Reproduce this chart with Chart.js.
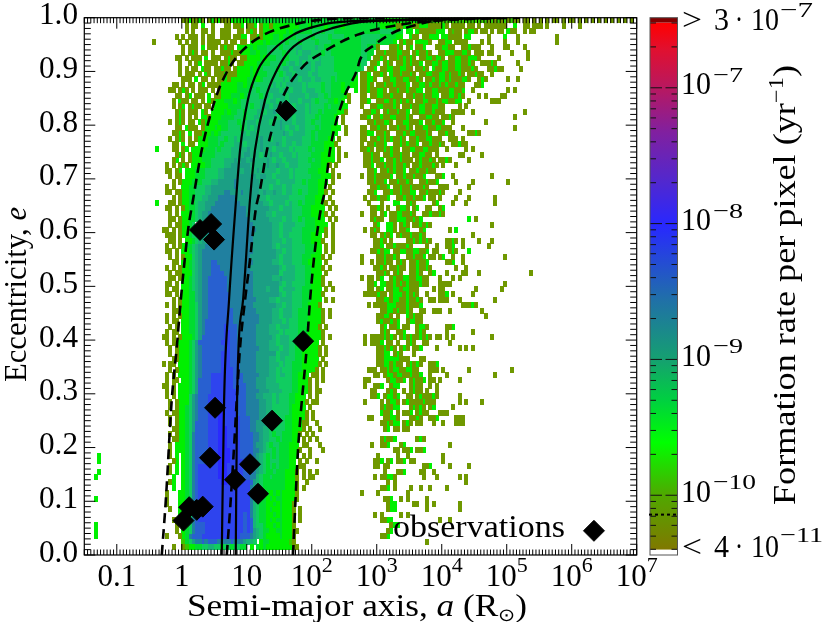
<!DOCTYPE html>
<html>
<head>
<meta charset="utf-8">
<style>
  html, body { margin: 0; padding: 0; background: #fff; }
  canvas { display: block; }
</style>
<script src="https://cdn.jsdelivr.net/npm/chart.js@4/dist/chart.umd.min.js"></script>
</head>
<body>
<canvas id="chart" width="830" height="622"></canvas>
<script>
// one string per eccentricity row, top (e=0.99-1.0) to bottom, "column:levels", '.' = empty pixel
const cellRows = [
  "30:1131131.13 40:1311133333 50:3444444444 60:4444444444 70:4444444444 80:4444444444 90:3333333333 100:3333322222 110:2222222222 120:2222121212 130:1211.11.1. 140:1.1.11.1.1 150:1.1.1.1.1. 160:1.1.1.1.1.",
  "31:1.11.3..1 42:.11.113.11 52:3.13313333 62:3333444344 72:4434444344 82:444 85:4444443333 95:3113331133 105:3111131.1 114:111.11.1.1 124:111111..3. 134:.11.111.1. 147:1 152:1",
  "31:1.1..11.1. 42:111..11.13 52:1.13333333 62:4344444455 72:5455544444 82:444 85:4444445555 95:444.33.311 105:111333.121 115:1.1331.11. 125:1.11.311 135:1.11",
  "28:1.1.111.1. 38:11..111.11 48:33.1131333 58:4434444555 68:5545555455 78:5544444 85:5555554444 95:433..311.1 105:1333.33111 115:1.33 124:1 129:3 133:1 145:1",
  "21:1 29:1.1.11.1.1 39:111.1.11.1 49:1.33334344 59:4554555455 69:5545555444 79:444444 85:5555544444 95:3.1311.333 105:31..1133.1 115:111 122:1.1 129:1 133:1 145:1",
  "29:.1.111.3.1 39:11.1311.33 49:3343444555 59:5455556655 69:5565544444 79:444444 85:554441 94:1131.13 102:113 108:113311 116:113111 125:1 129:11 135:1",
  "29:.1.131.11. 39:1..1113113 49:3344344555 59:5545556566 69:6555455444 79:444444 85:5544 90:1131113311 101:131131 109:1133311331 120:111.11 131:1 136:1",
  "28:11.1.111.3 38:.111.1311. 48:1133334344 58:4555455566 68:6565655554 78:4444444 85:554 89:1131 94:11313131 103:11331331 112:1133113331 127:1 136:1",
  "29:1..1.13.11 39:11.1131.11 49:3333444455 59:5545665656 69:6566555544 79:444444 85:55 88:113 92:131 96:11313113 105:113313311331131 122:11131 133:1",
  "28:.1.1.11.31 38:1.11311.13 48:3334344555 58:5456656666 68:6656555554 78:4444444 85:5 87:113 91:1133113311 102:1131 107:31133113311131 124:11311 134:1",
  "29:1.111.1.3 38:1.11131113 48:3334344455 58:5545665666 68:6566555555 78:444444 85:113 89:1131 94:31131131 103:11331133131131 118:11311 125:1",
  "29:.111.3.11. 39:1.11313333 49:3444345555 59:5565666566 69:6566555454 79:44443 85:11331 92:113311331131 105:11313313111331 121:131 130:1 133:1",
  "26:.11.1.11.1 36:3.11113333 46:3443445555 56:5565656666 66:6565555455 76:44434433 85:1131 90:1131131113 101:1133131131311311 120:113",
  "26:11.131.1.1 36:11.1.13333 46:3444455455 56:5666566566 66:6566655455 76:44434 82:.3 85:11311331 94:1131131133 105:113311133113 119:1 130:1 132:1",
  "27:.11.13.111 37:.3.1133344 47:4345555456 57:5666656666 67:6566655454 77:44431 85:11 88:1133113111 99:1131131133 110:1133131 121:1 123:1 128:11",
  "26:.1.311.11 35:.1.3133344 45:4345555556 55:6566566566 65:6566654555 75:44343.1 85:113 90:11331313131 102:11331131331133 118:1 125:111",
  "27:1.13.1311. 37:11.3333444 47:4555455666 57:5666766566 67:6565555454 77:4433 85:1 88:113311131 98:1131133113311 115:1 117:1",
  "27:.131.111.3 37:1.33334344 47:5545556656 57:6766567666 67:6565545444 77:4331 86:11331 92:13113113 101:1133113111 113:1111 119:1 135:1",
  "28:131.1.1.3 37:3133344445 47:5545566566 57:6656666566 67:6555454444 77:3.1 85:113 89:113113311131 103:113311 110:1131 132:1",
  "26:1.131.11.3 36:1333344455 46:5455666566 56:6566766656 66:6655455444 76:43.1 87:11311331 96:11331113 105:113113 113:1 123:1",
  "27:.11.3111.1 37:3334344555 47:5456566666 57:6667656656 67:6555454443 77:33.1 85:11 88:11311 94:1131131 102:11331133111 116:1 132:1",
  "26:.1131.3.11 36:3334345555 46:5566566566 56:6766676566 66:6655454444 76:33 80:1 85:1133 90:1131 96:11313311131 109:11311 118:1131",
  "26:1.131.1.13 36:3344455455 46:6566666676 56:6566656666 66:6555454443 76:3.1 85:11 88:11313131131 100:1131133111 112:111 116:1",
  "27:11.3.11.33 37:3444545556 47:6656666766 57:6676566566 67:5554444333 77:1 85:1 87:113113 95:11313113 104:1131131 113:11311",
  "22:3 27:11.13.3333 37:4445455566 47:6667666766 57:6566665655 67:5545444333 77:.1 85:1131 90:1131311 98:11331133111 111:1 117:1 119:1",
  "27:.131.13334 37:4445555566 47:6677676566 57:7665666565 67:5554443333 78:1.1 86:11311 92:11311311 101:113311 108:1 115:11 122:1",
  "27:13.1.13334 37:4455556667 47:6776766667 57:6566566665 67:5545443333 77:.1 86:113113 93:11313111 102:131131 109:1131 118:1",
  "25:1.1.131.33 35:3344555566 45:7777776666 55:6766766566 65:6555544433 75:1.1 86:113 90:1131131131 101:11311131 110:1 114:1",
  "25:11.13.3334 35:4455556677 45:7776776676 55:6666566656 65:5555444333 75:.1 87:113 91:11313113 100:1131131 107:1",
  "26:1.11.33344 36:4555566777 46:7777777677 56:6656666565 66:5555444333 76:1.1 85:1 87:11311113 96:113113113 108:113 113:1 125:1",
  "26:.1.133344 35:4555667777 45:7877777776 55:6666566666 65:5545444333 75:.1 87:113113 94:1131131 103:113113 114:1 119:1 130:1",
  "25:1.1..3344 34:5556677777 44:7787777777 54:6665666566 64:5555544433 74:.1 88:113113 95:11311311131 109:111 118:1",
  "24:.11.113344 34:5556677778 44:8777877777 54:6766766566 64:5545544433 74:1.1 87:113 92:1131131133 103:11311131 115:1",
  "26:.1.13344 34:5566777888 44:8887777777 54:6656666665 64:5555444333 74:.1 86:1 88:113113 96:113113113 106:11 109:1 114:1 118:1 126:1",
  "22:3 26:11.13344 34:5667778888 44:8888777777 54:7665666656 64:5545444333 74:1 76:1 87:1 91:1 95:33 99:131 107:13 113:1 117:1 126:1",
  "25:11.1.1344 34:5667788888 44:8888887777 54:7776665666 64:5554443333 75:1.1 88:1131 93:1 96:1331 101:13 105:11 109:13",
  "26:1.1.3344 34:5677888888 44:8888887777 54:7766566666 64:5554443333 74:1.1 85:1 88:11 91:13 94:11331 99:131 104:1131131",
  "26:11.13344 34:5677888888 44:8888888777 54:7776666566 64:5545444333 74:.1.1 88:1311 94:1133311313 118:3 120:1",
  "25:.1.113345 35:6778888888 45:8888888777 55:7776656666 65:5554443333 75:.1 89:13 93:331 97:131 101:113131 125:1",
  "24:11.1.13344 34:5677888888 44:8888888887 54:7777665666 64:5554444333 74:1.1 86:1 88:131 93:331 97:113 103:13 112:1 114:3",
  "24:.111.1334 33:5567788888 43:8888888887 53:7777766566 63:5555444333 73:.1.1 88:11 91:1313 96:131131131 119:1",
  "26:11.1.334 33:5567788888 43:8888888887 53:7777766656 63:6555444333 73:1..1 89:1131 94:1 99:11313131 111:1131 116:1 121:1 125:1",
  "25:1.1.1344 33:5677888888 43:8888888877 53:7777765666 63:6555544433 73:.1.1 89:113 93:11311131 105:1 108:1 111:113 116:1 124:1",
  "25:11.1.334 33:5678888888 43:8888888887 53:7777776656 63:6555544433 73:.1 76:1 88:113 91:133 95:11331133113 107:11 112:131 118:3",
  "26:1.1.133 33:5678888888 43:8888888877 53:7777776566 63:6555444333 73:1.1 85:1 90:1131131 99:113113 106:11 109:13 113:1 116:1 129:1",
  "26:.11.334 33:5678889988 43:8888888887 53:7777766566 63:6555443333 73:.1 85:1 88:1 90:11311 96:131 100:113113 111:113 116:1",
  "25:1.1.1334 33:5678889998 43:8888888877 53:7777777656 63:6655544333 73:1.1 89:1131 94:11311 100:1131131 114:1 117:1",
  "25:.1.11333 33:5678889999 43:8888888887 53:7777777566 63:6655544333 73:.1 90:1131 95:131 100:1131 106:13 111:1 116:11 121:1 137:1",
  "26:11.1334 33:5678899999 43:9888888887 53:7777766766 63:6655544333 73:1 85:1 87:11 90:13 94:131133113311 109:1 113:1 115:1",
  "24:.11.1.334 33:5678899999 43:9888888887 53:7777777656 63:6555544333 73:1.1 87:113 91:3311313131 101:11311 109:1111 129:1",
  "25:1.11.334 33:5678899999 43:9888888887 53:7776777566 63:6655444333 73:.1.1 87:11 90:13 93:1133133111 107:1 109:11 120:1 128:1",
  "25:11.1.334 33:4678899999 43:9988888887 53:7777777656 63:6555444333 73:1 86:1111311 94:133313131 105:1 109:113 113:1 119:1",
  "26:.1.1334 33:4678899999 43:9988888888 53:7777665666 63:6555444333 73:.1 76:1 90:1133133113 100:1131 106:11 109:111 115:1 126:1",
  "25:1.1.1334 33:4578899999 43:9988888887 53:7777776656 63:6555443333 72:1 87:1 89:11 91:1133311131 101:113 116:11131",
  "26:.11.334 33:4578899999 43:9998888888 53:7777766566 63:6554443333 73:1 75:1 91:1133131131 103:11 107:11 109:1 112:1 122:1",
  "25:1.1.1334 33:4578899999 43:9998888888 53:8777766566 63:6554443333 73:1.1 90:11331 96:1 99:31311 123:1",
  "25:1.11.334 33:4578999999 43:9998888888 53:8777766656 63:5554443333 73:1 90:1311313 99:13311",
  "26:1.1.334 33:4578999999 43:A999888888 53:7777665666 63:5554443331 73:.1 91:13 94:113 98:11 102:1331 111:113",
  "24:.1.11.334 33:4578999999 43:AA99888888 53:7777666565 63:5554443333 73:1 91:131 96:113 102:131 111:1 119:1",
  "24:11.1.1333 33:4579999999 43:AA99888888 53:7777765666 63:5554433333 72:.1.1 86:1 88:11 90:113131 97:1313 101:113131 108:11 111:1 113:1 125:1",
  "25:1.1.333 32:4579999999 42:AAA9988888 52:8777766566 62:6554443333 72:.1 86:1 88:11 90:13 93:11 96:1 99:131 104:11 112:1",
  "25:.1.1333 32:4578999999 42:9AA9988888 52:8877766656 62:6554443333 72:1.1 90:113131 97:131 101:113 108:1 115:1 117:1 119:1",
  "26:1.1333 32:4578999999 42:AAA9998888 52:8777777566 62:6554433333 72:1.1 90:1133 95:131 101:1",
  "26:.11333 32:4578999999 42:AAA9998888 52:8777766566 62:5554433333 72:.1 90:1133333111 103:11",
  "24:1.11.333 32:4578999999 42:AAA9998888 52:8777766656 62:5544433333 72:1 74:1 90:11331311 99:13131 106:113",
  "25:.1.1333 32:4578999999 42:AAAA998888 52:8777766565 62:5544433331 72:.1 87:111 91:113133113311 106:111 110:1 118:1 131:1",
  "25:1.1.333 32:4578999AAA 42:AAAA999888 52:8877766566 62:5544333 70:11.1 89:11 92:133133113113 106:1 111:1 126:1",
  "25:1.11.33 32:4579999AAA 42:AAAA999888 52:8777666555 62:5544333 69:1.1.1 86:11 93:133113 100:13113 106:11 109:1 115:1",
  "24:11.1.333 32:4579999AAA 42:AAAA999988 52:8777666655 62:5544333 69:1.1 86:1 89:113 94:133 100:1311 106:1 108:1",
  "25:1.1.333 32:4579999AAA 42:AAAAA99988 52:8877766665 62:5544333 69:1.11 88:11 93:131 98:1 100:1311 105:1 108:1",
  "25:1.1.333 31:4578999AAA 41:AAAAAA9998 51:8877666565 61:5544333 69:1.1 88:113 92:13313 99:11 102:1311131 115:1",
  "25:.1.1333 31:4578999AAA 41:AAAAAA9998 51:8887766565 61:5544333 68:1.11 86:1 91:1 93:1331 98:1311 102:113111 115:1 117:1 122:1",
  "26:1.133 31:4578999AAA 41:BAAAAA9998 51:8887766555 61:5543333 68:.1 91:131133 100:13131 106:13 113:1",
  "25:1.1133 31:4578999AAA 41:BBAAAA9998 51:8887766555 61:5543333 68:1.1 91:3113 96:1 98:113 102:1311 109:111",
  "25:.1.133 31:4578999AAA 41:BBAAAAA999 51:8887765655 61:5443333 68:1.1 87:11 92:11331 100:1131 106:113 114:111",
  "26:1.133 31:4579999AAA 41:BBAAAAA999 51:8877766555 61:5443331 68:1 71:1 91:113133 98:131 102:11 107:1 110:1 114:111",
  "26:.1133 31:4579999AAA 41:BBBAAAA999 51:8877665555 61:5443331 69:1 72:1 92:13 95:11 98:11",
  "26:1.133 31:4589999AAA 41:BBBAAAA999 51:9887665455 61:44433 66:1.1.1",
  "26:.1133 31:4589999AAA 41:BBBAAAA999 51:9887665545 61:44433 67:1.1 71:1 91:13113 102:131",
  "26:1.33 30:34589999AA 40:ABBBAAAA99 50:9987765455 60:444333 67:11 72:1 88:1 91:113 97:13 112:1",
  "26:1.33 30:34589999AA 40:ABBBBAAA99 50:9988765545 60:444333 66:1 69:1 73:1 95:11 98:113 102:113",
  "4:3 26:1.3 30:34589999AA 40:ABBBBAAA99 50:9987654545 60:444333 67:1 69:1 90:1 96:1 99:1 110:1",
  "4:3 26:.13 30:34589999AA 40:ABBBBAAAA9 50:9987654555 60:44433 66:1.1 71:1 89:113 93:13 96:113 100:11 110:1",
  "26:1.3 30:34589AAAAA 40:ABBBAAAAA9 50:9987654545 60:44433 66:11 89:11 92:11 104:113 112:1 118:1",
  "4:3 26:1.3 30:34589AAAAA 40:ABBBAAAAA9 50:9987654454 60:44333 65:1.1 69:1.1 92:1 96:113 103:11 107:1",
  "3:3 26:.3 30:34589AAAAA 40:ABBBAAAAA9 50:9886544544 60:44333 65:1.1 69:11 89:1 91:1133 95:1 104:1 108:1 115:1 117:1",
  "26:13 30:34589AAAAA 40:AABBAAAAAA 50:A976544444 60:44333 65:1 68:1 93:1 95:1 117:1",
  "26:.3 30:34589AAAAA 40:AAAAAAAAAA 50:A876544444 60:44333 65:1.1 91:113 95:1 100:1 103:1 106:1 111:1",
  "25:1 29:3 30:34589AAAAA 40:AAAAAAAAAA 50:A875444343 60:43333 65:1 85:1 90:1 99:1",
  "3:3 25:1 29:3 30:34589AAAAA 40:AAAAAAAAAA 50:A865443434 60:43333 65:1 92:113 97:1 99:1 105:1",
  "25:1 29:3 30:34589AAAAA 40:AAAAAAAAAA 50:A865443343 60:43331 64:1 93:133 101:11 105:1 107:1 115:1",
  "26:1 29:3 30:34589AAAAA 40:AAAAAAAAAA 50:A865443433 60:43331 64:1.1 93:133 105:1 115:1",
  "29:3 30:34589AAAAA 40:AAAAAAAAA9 50:A865443343 60:4333 64:1.1 89:1 91:1 97:1 99:1",
  "27:1 29:1 30:34589AAAAA 40:AAAAAAAAA9 50:A965443434 60:4333 64:1.1 91:1133 109:1 112:1",
  "3:3 28:1 30:3458999AAA 40:AAAAAAAAA9 50:A965543343 60:4333 64:1 94:133",
  "3:3 28:1 30:3458999AAA 40:AAAAAAAAA9 50:A976544334 60:4333 64:11 93:13",
  "3:3 25:1 29:1 30:348999AAAA 40:AAAAAAAA99 50:9876543333 60:43333 64:1 91:113",
  "30:2457889899 40:9888898887 50:665.344333 60:33321 105:1",
  "27:1 30:1233445566 40:5545545544 50:.3.4343333 60:333311"
];

// level of a pixel -> colour
const levelKeys = ["1", "2", "3", "4", "5", "6", "7", "8", "9", "A", "B"];
const levelColors = ["#6f9800", "#38c800", "#00f000", "#00dc30", "#10cc60", "#18b478", "#1b9f84", "#2080a0", "#2860d0", "#2e44ee", "#2a2aff"];

// observed systems
const obsA = [40.3, 73.8, 2.83, 1.91, 3.14, 3.25, 24.5, 2.72, 11.2, 6.6, 14.9, 1.3, 1.7, 2.1, 1.06];
const obsE = [0.827, 0.398, 0.616, 0.605, 0.587, 0.274, 0.25, 0.181, 0.169, 0.14, 0.114, 0.089, 0.084, 0.09, 0.064];
const legendKeyA = [2.2e6];
const legendKeyE = [0.045];

// the four curves
const solidLeftE = [0, 0.289, 0.475, 0.661, 0.754, 0.847, 0.903, 0.94, 0.968, 0.981, 0.991, 0.996, 1];
const solidLeftA = [4.12, 4.48, 5.34, 6.84, 7.89, 10.4, 14.9, 25.4, 51.5, 94, 213, 2280, 9300];
const solidRightE = [0, 0.289, 0.475, 0.661, 0.754, 0.847, 0.903, 0.94, 0.968, 0.981, 0.991, 0.996, 1];
const solidRightA = [6.77, 7.09, 8.77, 11.2, 13.4, 19.1, 29.2, 46.3, 105, 213, 498, 4660, 78900];
const dashOuterLeftE = [0, 0.102, 0.289, 0.387, 0.475, 0.605, 0.661, 0.754, 0.847, 0.903, 0.94, 0.968, 0.987, 0.996, 1];
const dashOuterLeftA = [0.492, 0.568, 0.701, 0.838, 0.966, 1.25, 1.49, 2.03, 3.25, 5.15, 8.77, 18.2, 51.5, 134, 1600];
const dashInnerE = [0, 0.084, 0.233, 0.289, 0.387, 0.475, 0.549, 0.642, 0.68, 0.754, 0.847, 0.903, 0.94, 0.968, 0.987, 0.996, 1];
const dashInnerA = [4.92, 5.53, 6.61, 7.01, 7.89, 9.42, 11.2, 13.7, 16, 20.5, 34.5, 66, 170, 498, 2280, 13400, 158000];
const dashOuterRightE = [0, 0.084, 0.196, 0.27, 0.387, 0.475, 0.568, 0.642, 0.68, 0.754, 0.847, 0.903, 0.922, 0.95, 0.972, 0.987, 0.996, 1];
const dashOuterRightA = [51.5, 55.3, 61.5, 68.4, 83.8, 94.2, 112, 137, 160, 191, 303, 498, 553, 942, 1780, 4170, 9420, 78900];

// axes
const xTickExponents = [-1, 0, 1, 2, 3, 4, 5, 6, 7];
const xTickLabels = ["0.1", "1", "10", "10", "10", "10", "10", "10", "10"];
const xTickSups = ["", "", "", "2", "3", "4", "5", "6", "7"];
const yTickValues = [0, 0.1, 0.2, 0.3, 0.4, 0.5, 0.6, 0.7, 0.8, 0.9, 1];
const yTickLabels = ["0.0", "0.1", "0.2", "0.3", "0.4", "0.5", "0.6", "0.7", "0.8", "0.9", "1.0"];

// colour bar
const barLogRates = [-10.4, -10, -9.612, -9.3, -9, -8.56, -8.01, -7.7, -7.33, -7, -6.72, -6.52];
const barColors = ["#807800", "#50a800", "#00ff00", "#00d040", "#15a070", "#2070a8", "#2828ff", "#5028d0", "#8020a0", "#b81860", "#e01030", "#ff0000"];
const barTicks = [-10, -9, -8, -7];
const barLabels = ["\u221210", "\u22129", "\u22128", "\u22127"];
const dottedRate = 7.2e-11;

const SERIF = '"Liberation Serif", serif';

function pointsFrom(xs, ys) {
    return xs.map((x, i) => ({ x, y: ys[i] }));
}

function cellImage(color) {
    const c = document.createElement('canvas');
    c.width = 4;
    c.height = 6;
    const g = c.getContext('2d');
    g.fillStyle = color;
    g.fillRect(0, 0, 4, 6);
    return c;
}

function cellDatasets() {
    const byLevel = levelKeys.map(() => []);
    cellRows.forEach((row, r) => {
        row.trim().split(/\s+/).forEach(seg => {
            const [start, levels] = seg.split(':');
            [...levels].forEach((ch, i) => {
                const lv = levelKeys.indexOf(ch);
                if (lv < 0) return;
                const col = Number(start) + i;
                byLevel[lv].push({ x: Math.pow(10, -1.5 + 0.05 * (col + 0.5)), y: 1 - (r + 0.5) * 0.01 });
            });
        });
    });
    return byLevel.map((data, lv) => ({
        label: 'level ' + levelKeys[lv],
        data,
        order: 3 + lv,
        pointStyle: cellImage(levelColors[lv]),
        pointRadius: 2,
        pointHoverRadius: 2,
        showLine: false
    }));
}

function curve(label, xs, ys, dash) {
    return {
        label,
        data: pointsFrom(xs, ys),
        showLine: true,
        pointRadius: 0,
        borderColor: '#000',
        borderWidth: dash ? 2.6 : 2.2,
        borderDash: dash ? [10, 6] : [],
        cubicInterpolationMode: 'monotone',
        order: 1
    };
}

function runFont(run) {
    return (run[3] ? 'italic ' : '') + run[1] + 'px ' + SERIF;
}

// a label made of pieces: [text, size, raise, italic]; fitWidth stretches it to the width measured in the picture
function putRuns(ctx, x, y, runs, fitWidth) {
    ctx.save();
    ctx.textAlign = 'left';
    ctx.textBaseline = 'alphabetic';
    ctx.fillStyle = '#000';
    let natural = 0;
    runs.forEach(run => {
        ctx.font = runFont(run);
        natural += ctx.measureText(run[0]).width;
    });
    ctx.translate(x, y);
    ctx.scale(fitWidth ? fitWidth / natural : 1, 1);
    let at = 0;
    runs.forEach(run => {
        ctx.font = runFont(run);
        ctx.fillText(run[0], at, -run[2]);
        at += ctx.measureText(run[0]).width;
    });
    ctx.restore();
}

function tickLine(ctx, x1, y1, x2, y2, w) {
    ctx.lineWidth = w;
    ctx.beginPath();
    ctx.moveTo(x1, y1);
    ctx.lineTo(x2, y2);
    ctx.stroke();
}

const framePlugin = {
    id: 'frame',
    beforeDatasetsDraw(chart) {
        const ctx = chart.ctx;
        const cb = chart.scales.cb;
        const { top } = chart.chartArea;
        const bx0 = 650, bx1 = 677.5;
        const yLow = cb.getPixelForValue(Math.pow(10, barLogRates[0]));
        const yHigh = cb.getPixelForValue(Math.pow(10, barLogRates[barLogRates.length - 1]));

        ctx.save();
        const grad = ctx.createLinearGradient(0, yLow, 0, yHigh);
        barLogRates.forEach((v, i) => {
            const p = cb.getPixelForValue(Math.pow(10, v));
            grad.addColorStop((yLow - p) / (yLow - yHigh), barColors[i]);
        });
        ctx.fillStyle = grad;
        ctx.fillRect(bx0, yHigh, bx1 - bx0, yLow - yHigh);
        ctx.fillStyle = '#7f0000';
        ctx.fillRect(bx0, top, bx1 - bx0, yHigh - top);
        ctx.restore();
    },
    afterDatasetsDraw(chart) {
        const ctx = chart.ctx;
        const { left, right, top, bottom } = chart.chartArea;
        const xs = chart.scales.x, ys = chart.scales.y, cb = chart.scales.cb;
        const bx0 = 650, bx1 = 677.5;

        ctx.save();
        ctx.strokeStyle = '#000';

        // minor ticks every pixel of the histogram on x, every 0.01 on y
        for (let c = 0; c <= 170; c++) {
            const px = xs.getPixelForValue(Math.pow(10, -1.5 + 0.05 * c));
            const len = c % 20 === 10 ? 11 : 5.5;
            tickLine(ctx, px, bottom, px, bottom - len, 1);
            tickLine(ctx, px, top, px, top + len, 1);
        }
        for (let k = 0; k <= 100; k++) {
            const py = ys.getPixelForValue(k / 100);
            const len = k % 10 === 0 ? 11 : 6.5;
            tickLine(ctx, left, py, left + len, py, 1);
            tickLine(ctx, right, py, right - len, py, 1);
        }
        ctx.lineWidth = 1.2;
        ctx.strokeRect(left, top, right - left, bottom - top);

        // colour bar ticks
        ctx.strokeStyle = '#111';
        for (let d = -11; d <= -7; d++) {
            for (let m = 1; m <= 9; m++) {
                const v = m * Math.pow(10, d);
                if (v < 4e-11 || v > 3e-7) continue;
                const py = cb.getPixelForValue(v);
                const len = m === 1 ? 12 : 6;
                tickLine(ctx, bx0, py, bx0 + len, py, 1);
                tickLine(ctx, bx1, py, bx1 - len, py, 1);
            }
        }
        ctx.strokeStyle = '#555';
        ctx.lineWidth = 1;
        ctx.strokeRect(bx0, top, bx1 - bx0, bottom - top);
        ctx.strokeStyle = '#000';
        ctx.lineWidth = 2;
        ctx.setLineDash([3, 3]);
        const dy = cb.getPixelForValue(dottedRate);
        ctx.beginPath();
        ctx.moveTo(bx0 - 1, dy);
        ctx.lineTo(bx1 + 1, dy);
        ctx.stroke();
        ctx.setLineDash([]);

        // y tick labels
        yTickValues.forEach((v, i) => {
            putRuns(ctx, 39, ys.getPixelForValue(v) + 6.5, [[yTickLabels[i], 31, 0]], 39);
        });

        // x tick labels with exponents
        xTickExponents.forEach((ex, i) => {
            const px = xs.getPixelForValue(Math.pow(10, ex));
            ctx.font = '31px ' + SERIF;
            const w = ctx.measureText(xTickLabels[i]).width;
            ctx.font = '22px ' + SERIF;
            const sw = xTickSups[i] ? ctx.measureText(xTickSups[i]).width : 0;
            const runs = [[xTickLabels[i], 31, 0]];
            if (xTickSups[i]) runs.push([xTickSups[i], 22, 14]);
            putRuns(ctx, px - (w + sw) / 2, 585.7, runs);
        });

        // colour bar labels
        barTicks.forEach((d, i) => {
            const py = cb.getPixelForValue(Math.pow(10, d));
            putRuns(ctx, 681, py + 6.5, [["10", 31, 0]], 30);
            putRuns(ctx, 713, py + 6.5 - 12.5, [[barLabels[i], 22, 0]], i === 0 ? 43 : 30);
        });
        putRuns(ctx, 682, 30, [['>', 31, 0]], 20);
        putRuns(ctx, 714, 30, [['3', 31, 0]], 15);
        putRuns(ctx, 735, 30, [['\u00b7', 31, 0]], 8);
        putRuns(ctx, 751, 30, [['10', 31, 0]], 28);
        putRuns(ctx, 780, 17, [['\u22127', 22, 0]], 33);
        putRuns(ctx, 682, 557, [['<', 31, 0]], 20);
        putRuns(ctx, 714, 557, [['4', 31, 0]], 15);
        putRuns(ctx, 735, 557, [['\u00b7', 31, 0]], 8);
        putRuns(ctx, 751, 557, [['10', 31, 0]], 28);
        putRuns(ctx, 780, 542, [['\u221211', 22, 0]], 43);

        // titles
        putRuns(ctx, 187, 615.5, [['Semi-major axis, ', 31, 0], ['a', 31, 0, true], [' (R', 31, 0], ['\u2299', 18, -5], [')', 31, 0]], 340);
        putRuns(ctx, 393, 537, [['observations', 31, 0]], 172);

        ctx.save();
        ctx.translate(26, 382);
        ctx.rotate(-Math.PI / 2);
        putRuns(ctx, 0, 0, [['Eccentricity, ', 31, 0], ['e', 31, 0, true]], 175);
        ctx.restore();

        ctx.save();
        ctx.translate(795, 505);
        ctx.rotate(-Math.PI / 2);
        putRuns(ctx, 0, 0, [['Formation rate per pixel (yr', 31, 0], ['\u22121', 21, 12], [')', 31, 0]], 440);
        ctx.restore();

        ctx.restore();
    }
};

new Chart(document.getElementById('chart'), {
    type: 'scatter',
    plugins: [framePlugin],
    data: {
        datasets: [
            { label: 'observations', data: pointsFrom(obsA, obsE), pointStyle: 'rectRot', pointRadius: 10.5, backgroundColor: '#000', borderColor: '#000', order: 0 },
            { label: 'legend key', data: pointsFrom(legendKeyA, legendKeyE), pointStyle: 'rectRot', pointRadius: 10.5, backgroundColor: '#000', borderColor: '#000', order: 0 },
            curve('solid left', solidLeftA, solidLeftE, false),
            curve('solid right', solidRightA, solidRightE, false),
            curve('dashed outer left', dashOuterLeftA, dashOuterLeftE, true),
            curve('dashed inner', dashInnerA, dashInnerE, true),
            curve('dashed outer right', dashOuterRightA, dashOuterRightE, true),
            ...cellDatasets()
        ]
    },
    options: {
        responsive: false,
        animation: false,
        layout: { padding: { top: 17.7, right: 193.3, left: 0, bottom: 0 } },
        plugins: { legend: { display: false }, tooltip: { enabled: false } },
        events: [],
        scales: {
            x: {
                type: 'logarithmic',
                min: 0.0316228,
                max: 1e7,
                grid: { display: false },
                border: { display: false },
                ticks: { display: false },
                afterFit(s) { s.height = 67; }
            },
            y: {
                min: 0,
                max: 1,
                grid: { display: false, drawTicks: false },
                border: { display: false },
                ticks: { display: false },
                afterFit(s) { s.width = 84.3; }
            },
            cb: {
                type: 'logarithmic',
                display: false,
                position: 'right',
                min: Math.pow(10, -10.44),
                max: Math.pow(10, -6.484)
            }
        }
    }
});
</script>
</body>
</html>
